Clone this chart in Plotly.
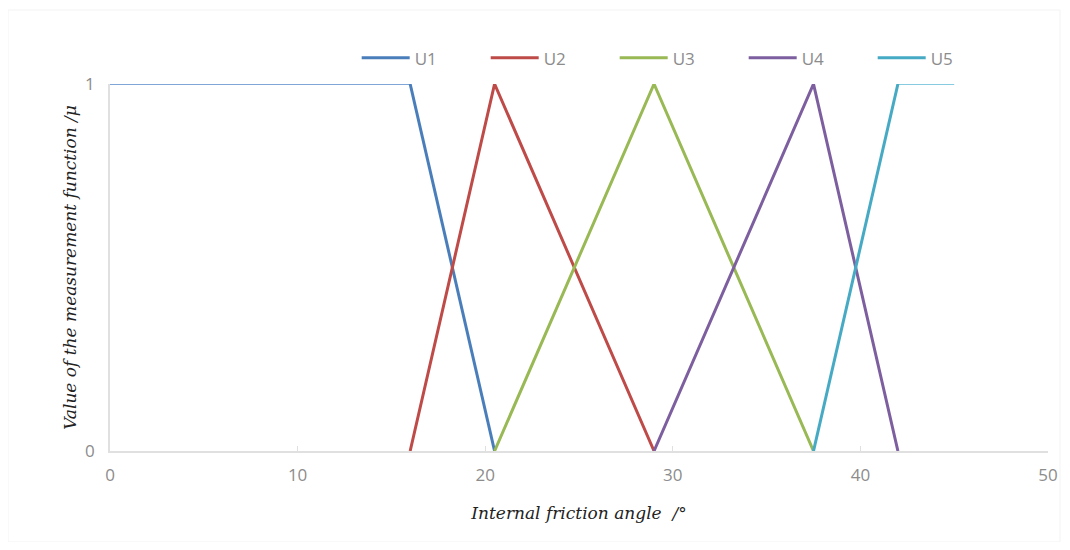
import plotly.graph_objects as go

names = ["U1", "U2", "U3", "U4", "U5"]
colors = ["#4a7ebb", "#be4b48", "#98b954", "#7d5fa0", "#46aac5"]
xs = [
    [16, 20.5],
    [16, 20.5, 29],
    [20.5, 29, 37.5],
    [29, 37.5, 42],
    [37.5, 42],
]
ys = [
    [1, 0],
    [0, 1, 0],
    [0, 1, 0],
    [0, 1, 0],
    [0, 1],
]
# thin plateau segments
u1_flat_x = [0, 16]
u1_flat_y = [1, 1]
u5_flat_x = [42, 45]
u5_flat_y = [1, 1]

fig = go.Figure()
fig.add_trace(go.Scatter(x=u1_flat_x, y=u1_flat_y, mode="lines",
                         line=dict(color="#7fa6d6", width=1.8), showlegend=False, hoverinfo="skip"))
fig.add_trace(go.Scatter(x=u5_flat_x, y=u5_flat_y, mode="lines",
                         line=dict(color="#86cbe0", width=1.8), showlegend=False, hoverinfo="skip"))
for n, c, x, y in zip(names, colors, xs, ys):
    fig.add_trace(go.Scatter(x=x, y=y, mode="lines", name=n,
                             line=dict(color=c, width=3)))

tick_font = dict(family="Open Sans, Liberation Sans, sans-serif", size=17, color="#8c8c8c")
title_font = dict(family="DejaVu Serif, Liberation Serif, serif", size=17, color="#222222")

fig.update_layout(
    width=1054, height=534,
    paper_bgcolor="white", plot_bgcolor="white",
    margin=dict(l=102, r=14, t=76, b=91),
    legend=dict(orientation="h", x=0.263, xanchor="left", y=1.07, yanchor="middle",
                bgcolor="rgba(0,0,0,0)",
                font=dict(family="Open Sans, Liberation Sans, sans-serif", size=17, color="#8c8c8c"),
                itemwidth=48, entrywidth=66, entrywidthmode="pixels", traceorder="normal"),
    xaxis=dict(range=[0, 50], dtick=10, tick0=0, showgrid=False, zeroline=False,
               showline=True, linecolor="#e0e0e0", linewidth=1.5, automargin=False,
               ticks="inside", ticklen=5, tickcolor="#e0e0e0",
               tickfont=tick_font, ticklabelstandoff=8,
               title=dict(text="<i>Internal friction angle  /°</i>", font=title_font, standoff=22)),
    yaxis=dict(range=[0, 1], tickvals=[0, 1], showgrid=False, zeroline=False,
               showline=True, linecolor="#e0e0e0", linewidth=1.5, automargin=False,
               tickfont=tick_font, ticks="", ticklabelstandoff=10,
               title=dict(text="<i>Value of the measurement function /μ</i>", font=title_font, standoff=4)),
    shapes=[dict(type="rect", xref="paper", yref="paper", x0=-0.1087, x1=1.0128, y0=-0.248, y1=1.2016,
                 line=dict(color="#f3f3f3", width=1), layer="below")],
)

fig.write_html("out.html")
